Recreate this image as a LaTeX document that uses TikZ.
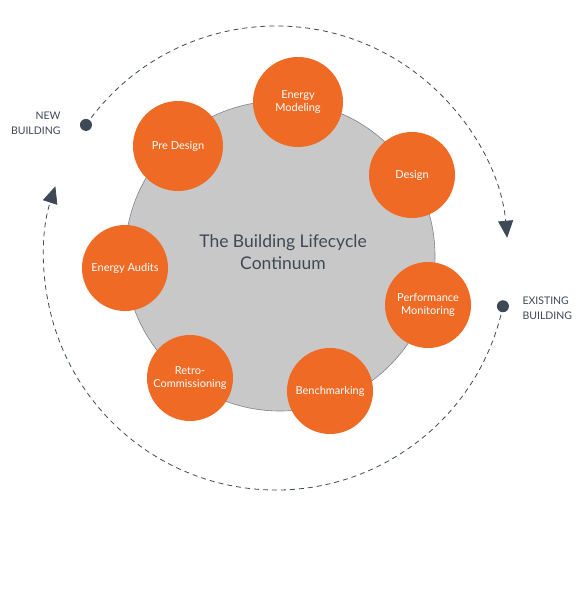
\documentclass[tikz,border=0pt]{standalone}
\usepackage{fontspec}
\setmainfont{Lato}
\usetikzlibrary{arrows.meta,calc}
\definecolor{orng}{HTML}{EF6A24}
\definecolor{slate}{HTML}{3F4855}
\definecolor{hub}{HTML}{C8C8C8}
\definecolor{hubline}{HTML}{7E848C}
\tikzset{
  stage/.style={circle, fill=orng, minimum size=86pt, inner sep=0pt, text=white, font=\fontsize{11}{13}\selectfont, align=center},
  cycle/.style={slate, line width=0.8pt, dash pattern=on 5pt off 4pt},
  tip/.style={-{Triangle[length=17pt,width=15pt]}},
  dot/.style={circle, fill=slate, minimum size=12pt, inner sep=0pt},
  lbl/.style={text=slate, font=\fontsize{10.5}{15}\selectfont}
}
\begin{document}
\begin{tikzpicture}[x=1pt,y=-1pt]
\useasboundingbox (0,0) rectangle (579,594);
\fill[white] (0,0) rectangle (579,594);
% hub
\node[circle, fill=hub, draw=hubline, line width=0.6pt, minimum size=310pt, inner sep=0pt] (hub) at (280,256) {};
\node[text=slate, font=\fontsize{17.5}{22}\selectfont, align=center] (title) at (283,252) {The Building Lifecycle\\Continuum};
% stages
\node[stage, minimum size=90pt] (em) at (298,102) {Energy\\Modeling};
\node[stage] (de) at (412,175) {Design};
\node[stage] (pm) at (428,305) {Performance\\Monitoring};
\node[stage] (bm) at (330,391) {Benchmarking};
\node[stage] (rc) at (190,378) {Retro-\\Commissioning};
\node[stage] (ea) at (125,268) {Energy Audits};
\node[stage, minimum size=90pt] (pd) at (178,146) {Pre Design};
% cycle
\coordinate (cc) at (276,258);
\node[dot] (newdot) at ($(cc)+(-145:232)$) {};
\node[dot] (exdot) at ($(cc)+(12:232)$) {};
\draw[cycle, tip] (newdot.center) arc[start angle=-145, end angle=-5, radius=232];
\draw[cycle, tip] (exdot.center) arc[start angle=12, end angle=198, radius=232];
\node[lbl, anchor=east, align=right] (newlbl) at (64,123) {NEW\\BUILDING};
\node[lbl, anchor=west, align=left] (exlbl) at (519,308) {EXISTING\\BUILDING};
\end{tikzpicture}
\end{document}
